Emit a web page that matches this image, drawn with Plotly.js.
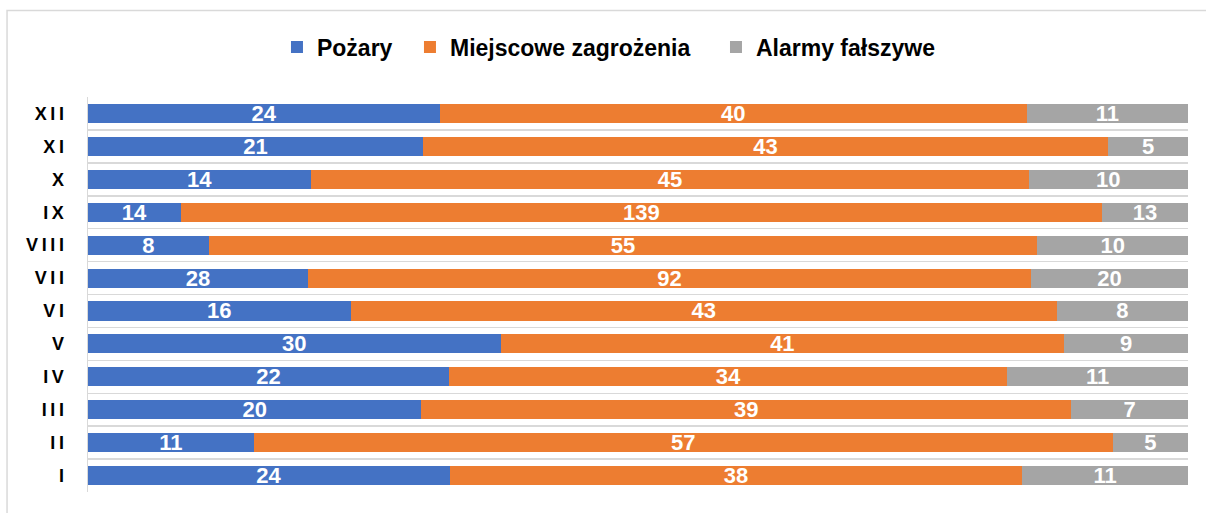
<!DOCTYPE html>
<html><head><meta charset="utf-8">
<script src="https://cdn.plot.ly/plotly-3.0.1.min.js"></script>
<style>html,body{margin:0;padding:0;background:#fff}#chart{width:1206px;height:513px}</style>
</head><body><div id="chart"></div>
<script>
const months = ['I','II','III','IV','V','VI','VII','VIII','IX','X','XI','XII'];
const monthLabels = ['I','I\u2009I','I\u2009I\u2009I','I\u2009V','V','V\u2009I','V\u2009I\u2009I','V\u2009I\u2009I\u2009I','I\u2009X','X','X\u2009I','X\u2009I\u2009I'];
const seriesNames = ['Pożary','Miejscowe zagrożenia','Alarmy fałszywe'];
const pozary = [24,11,20,22,30,16,28,8,14,14,21,24];
const miejscowe = [38,57,39,34,41,43,92,55,139,45,43,40];
const alarmy = [11,5,7,11,9,8,20,10,13,10,5,11];
const colors = ['#4472C4','#ED7D31','#A5A5A5'];

const FONT = 'Liberation Sans, Arial, sans-serif';
const legendIds = ['legend', 'legend2', 'legend3'];
const legendX = [0.1718, 0.2927, 0.5709];

const traces = [pozary, miejscowe, alarmy].map((vals, i) => ({
  type: 'bar', orientation: 'h',
  name: seriesNames[i], x: vals, y: months,
  legend: legendIds[i],
  text: vals.map(String), textposition: 'inside', insidetextanchor: 'middle',
  textangle: 0, constraintext: 'none', cliponaxis: false,
  textfont: {family: FONT, size: 22, color: '#ffffff', weight: 'bold'},
  marker: {color: colors[i], line: {width: 0}},
  hoverinfo: 'skip'
}));

const legendStyle = (x) => ({
  orientation: 'h', x: x, xanchor: 'left', y: 1.1266, yanchor: 'middle',
  bgcolor: 'rgba(0,0,0,0)', borderwidth: 0,
  font: {family: FONT, size: 23, color: '#000000', weight: 'bold'}
});

const layout = {
  width: 1206, height: 513,
  margin: {l: 88, r: 18, t: 97, b: 21},
  barmode: 'stack', barnorm: 'percent', bargap: 0.42,
  paper_bgcolor: '#ffffff', plot_bgcolor: '#ffffff',
  showlegend: true,
  legend: legendStyle(legendX[0]),
  legend2: legendStyle(legendX[1]),
  legend3: legendStyle(legendX[2]),
  xaxis: {range: [0, 100.001], showgrid: false, zeroline: false, showticklabels: false, showline: false, fixedrange: true},
  yaxis: {type: 'category', tickmode: 'array', tickvals: months, ticktext: monthLabels,
          tickson: 'boundaries', ticks: '', showgrid: true, gridcolor: '#d9d9d9', gridwidth: 1.5,
          showline: true, linecolor: '#d9d9d9', linewidth: 1.5,
          ticklabelstandoff: 19,
          tickfont: {family: FONT, size: 18, color: '#000000', weight: 'bold'}, fixedrange: true},
  shapes: [{type: 'rect', xref: 'paper', yref: 'paper', x0: -0.0736, x1: 1.2, y0: -0.3, y1: 1.219,
            line: {color: '#d9d9d9', width: 1.5}, fillcolor: 'rgba(0,0,0,0)', layer: 'below'}]
};

Plotly.newPlot('chart', traces, layout, {displayModeBar: false, staticPlot: true});
</script></body></html>
